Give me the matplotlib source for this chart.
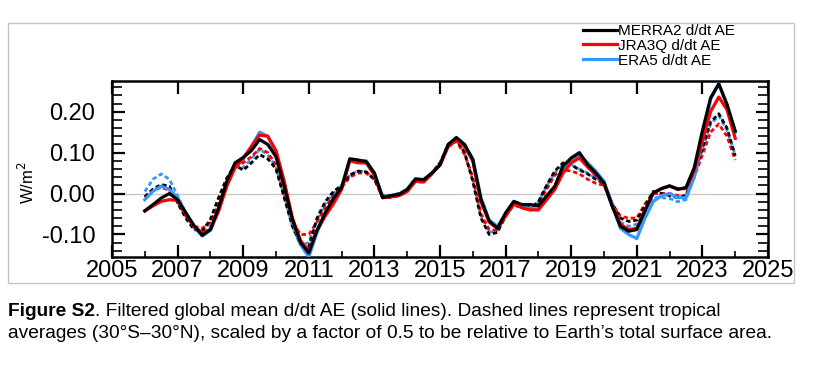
import numpy as np
import matplotlib
matplotlib.use('Agg')
import matplotlib.pyplot as plt
from matplotlib.patches import Rectangle
from matplotlib.ticker import MultipleLocator, FixedLocator

# quarterly time axis, 2006.0 .. 2024.0
years = np.arange(2006.0, 2024.01, 0.25)

# solid lines: filtered global mean d/dt AE (W/m2)
merra2 = [-0.042, -0.027, -0.011, 0.0, -0.015, -0.047, -0.078, -0.102,
          -0.088, -0.035, 0.03, 0.075, 0.088, 0.105, 0.132, 0.12,
          0.09, 0.018, -0.063, -0.12, -0.145, -0.09, -0.047, -0.012,
          0.015, 0.085, 0.082, 0.078, 0.05, -0.01, -0.005, -0.002,
          0.01, 0.036, 0.034, 0.05, 0.07, 0.12, 0.137, 0.12,
          0.083, -0.015, -0.067, -0.085, -0.047, -0.019, -0.027, -0.027,
          -0.03, -0.006, 0.018, 0.067, 0.087, 0.1, 0.071, 0.05,
          0.026, -0.031, -0.08, -0.092, -0.088, -0.042, 0.002, 0.012,
          0.019, 0.01, 0.015, 0.063, 0.153, 0.234, 0.268, 0.218,
          0.153]
jra3q = [-0.043, -0.03, -0.019, -0.015, -0.017, -0.05, -0.08, -0.096,
         -0.088, -0.043, 0.018, 0.063, 0.085, 0.115, 0.143, 0.14,
         0.105, 0.03, -0.06, -0.115, -0.14, -0.09, -0.055, -0.025,
         0.01, 0.08, 0.075, 0.075, 0.045, -0.01, -0.008, -0.005,
         0.005, 0.03, 0.028, 0.048, 0.07, 0.115, 0.13, 0.115,
         0.08, -0.02, -0.07, -0.085, -0.055, -0.025, -0.035, -0.04,
         -0.04, -0.015, 0.01, 0.05, 0.075, 0.087, 0.065, 0.045,
         0.025, -0.03, -0.075, -0.088, -0.085, -0.04, 0.0, 0.012,
         0.018, 0.012, 0.012, 0.055, 0.13, 0.2, 0.236, 0.205,
         0.135]
era5 = [-0.015, 0.006, 0.018, 0.01, -0.01, -0.047, -0.08, -0.104,
        -0.09, -0.04, 0.022, 0.068, 0.088, 0.115, 0.15, 0.14,
        0.1, 0.025, -0.065, -0.125, -0.155, -0.095, -0.05, -0.02,
        0.015, 0.082, 0.08, 0.08, 0.05, -0.008, -0.005, -0.002,
        0.01, 0.035, 0.033, 0.05, 0.07, 0.118, 0.133, 0.118,
        0.085, -0.01, -0.065, -0.08, -0.05, -0.02, -0.03, -0.038,
        -0.038, -0.01, 0.015, 0.06, 0.082, 0.095, 0.075, 0.055,
        0.03, -0.025, -0.085, -0.1, -0.11, -0.06, -0.02, -0.005,
        0.0, -0.01, -0.01, 0.04, 0.13, 0.23, 0.268, 0.215,
        0.15]

# dashed lines: tropical averages (30S-30N), scaled by 0.5
merra2_trop = [-0.008, 0.011, 0.022, 0.018, -0.023, -0.06, -0.088, -0.092,
               -0.063, -0.01, 0.038, 0.07, 0.057, 0.075, 0.095, 0.085,
               0.06, -0.01, -0.08, -0.125, -0.13, -0.06, -0.02, 0.005,
               0.02, 0.045, 0.055, 0.053, 0.035, -0.005, -0.005, 0.0,
               0.01, 0.035, 0.03, 0.05, 0.075, 0.12, 0.132, 0.1,
               0.03, -0.06, -0.1, -0.095, -0.055, -0.025, -0.03, -0.035,
               -0.02, 0.02, 0.055, 0.075, 0.07, 0.058, 0.048, 0.035,
               0.025, -0.025, -0.06, -0.068, -0.065, -0.03, 0.005, 0.0,
               -0.005, -0.01, -0.005, 0.05, 0.11, 0.175, 0.195, 0.16,
               0.092]
jra3q_trop = [-0.01, 0.008, 0.015, 0.008, -0.02, -0.055, -0.08, -0.085,
              -0.07, -0.025, 0.03, 0.065, 0.075, 0.09, 0.11, 0.1,
              0.07, 0.0, -0.07, -0.1, -0.1, -0.07, -0.035, -0.005,
              0.015, 0.04, 0.05, 0.05, 0.035, -0.01, -0.01, -0.005,
              0.005, 0.03, 0.028, 0.048, 0.072, 0.115, 0.128, 0.095,
              0.04, -0.05, -0.088, -0.09, -0.055, -0.028, -0.035, -0.04,
              -0.025, 0.01, 0.045, 0.058, 0.055, 0.048, 0.035, 0.025,
              0.02, -0.025, -0.055, -0.06, -0.06, -0.025, 0.0, 0.0,
              0.0, -0.005, -0.005, 0.04, 0.095, 0.15, 0.17, 0.14,
              0.082]
era5_trop = [0.005, 0.035, 0.048, 0.035, -0.005, -0.05, -0.085, -0.098,
             -0.075, -0.03, 0.025, 0.065, 0.063, 0.085, 0.108, 0.095,
             0.065, -0.005, -0.08, -0.125, -0.12, -0.065, -0.025, 0.0,
             0.02, 0.045, 0.055, 0.053, 0.035, -0.005, -0.005, 0.0,
             0.01, 0.035, 0.03, 0.05, 0.075, 0.12, 0.132, 0.1,
             0.035, -0.055, -0.095, -0.09, -0.05, -0.022, -0.03, -0.038,
             -0.022, 0.018, 0.05, 0.07, 0.07, 0.06, 0.05, 0.038,
             0.028, -0.025, -0.07, -0.08, -0.075, -0.04, -0.01, -0.01,
             -0.012, -0.02, -0.015, 0.04, 0.11, 0.17, 0.19, 0.155,
             0.095]

labels = ['MERRA2 d/dt AE', 'JRA3Q d/dt AE', 'ERA5 d/dt AE']
colors = ['black', '#ff0000', '#3399ff']

plt.rcParams['font.family'] = ['Liberation Sans', 'DejaVu Sans']

fig = plt.figure(figsize=(8.23, 3.74), dpi=100)
ax = fig.add_axes([112 / 823, 1 - 257 / 374, 656 / 823, 176 / 374])

# light frame around the plot panel
fig.patches.append(Rectangle((8 / 823, 1 - 283 / 374), 786 / 823, 260 / 374,
                             transform=fig.transFigure, fill=False,
                             edgecolor='#c4c4c4', linewidth=1.0))

ax.axhline(0, color='#c8c8c8', lw=1.0, zorder=1)

dash = (0, (1.6, 1.0))
solids = [merra2, jra3q, era5]
dashed = [merra2_trop, jra3q_trop, era5_trop]
for i in [2, 1, 0]:
    ax.plot(years, dashed[i], color=colors[i], lw=2.0, ls=dash, zorder=2)
handles = [None] * 3
for i in [2, 1, 0]:
    handles[i], = ax.plot(years, solids[i], color=colors[i], lw=2.3, zorder=3)

ax.set_xlim(2005, 2025)
ax.set_ylim(-0.155, 0.275)

ax.xaxis.set_minor_locator(FixedLocator(np.arange(2006, 2025, 2)))
ax.yaxis.set_minor_locator(MultipleLocator(0.02))
ax.set_yticks([-0.1, 0.0, 0.1, 0.2])
ax.set_yticklabels(['-0.10', '0.00', '0.10', '0.20'])
ax.set_xticks(np.arange(2005, 2026, 2))

ax.tick_params(which='major', direction='in', length=9, width=1.6,
               labelsize=17, top=True, right=True)
ax.tick_params(which='minor', direction='in', length=7, width=1.2,
               right=True)
ax.tick_params(axis='x', which='minor', length=4)
ax.tick_params(axis='x', which='major', pad=2)
ax.tick_params(axis='y', which='major', pad=12)
for sp in ax.spines.values():
    sp.set_linewidth(1.8)

fig.text(27 / 823, 1 - 183 / 374, 'W/m$^2$', rotation=90, fontsize=12,
         ha='center', va='center')

ax.legend(handles, labels, loc='upper left',
          bbox_to_anchor=(583 / 823, 1 - 24 / 374),
          bbox_transform=fig.transFigure, frameon=False, fontsize=11,
          handlelength=2.2, handletextpad=0.1, labelspacing=0.05,
          borderpad=0, borderaxespad=0)

# caption
cap1_bold = 'Figure S2'
cap1 = '. Filtered global mean d/dt AE (solid lines). Dashed lines represent tropical'
cap2 = 'averages (30°S\u201330°N), scaled by a factor of 0.5 to be relative to Earth\u2019s total surface area.'
t = fig.text(8 / 823, 1 - 312 / 374, cap1_bold, fontsize=13.8, fontweight='bold',
             ha='left', va='center')
fig.canvas.draw()
bb = t.get_window_extent()
fig.text(bb.x1 / 823, 1 - 312 / 374, cap1, fontsize=13.8, ha='left', va='center')
fig.text(8 / 823, 1 - 334 / 374, cap2, fontsize=13.8, ha='left', va='center')

fig.savefig('out.png', dpi=100)
